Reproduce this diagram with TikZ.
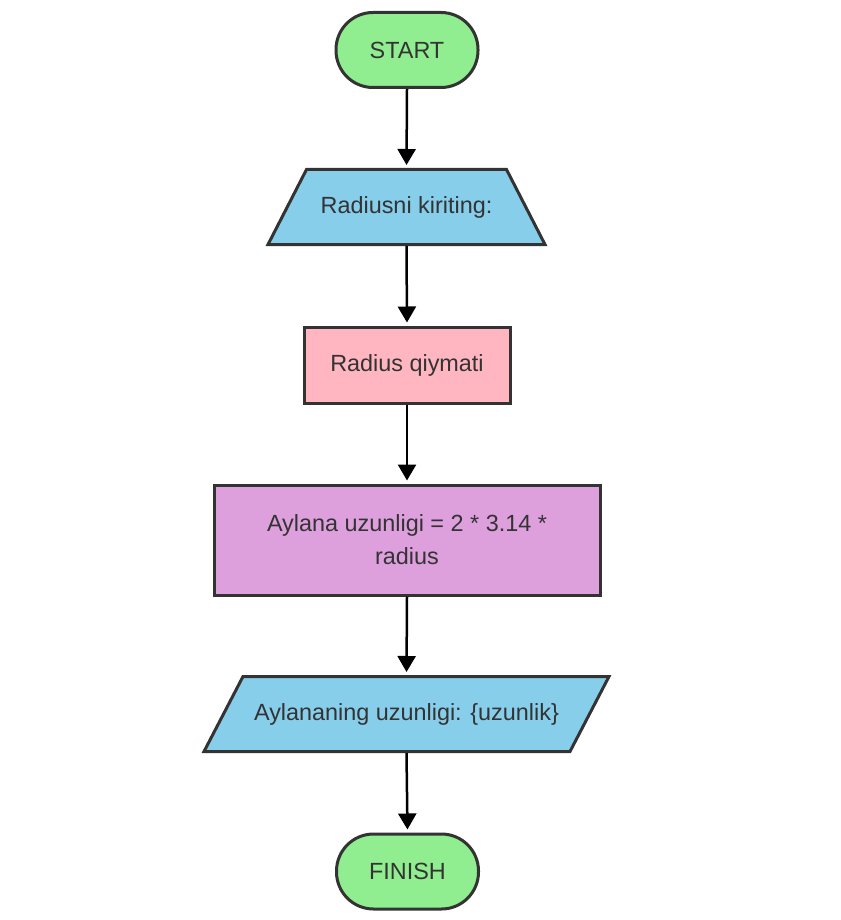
\documentclass[tikz,border=0pt]{standalone}
\usepackage{fontspec}
\setmainfont{Liberation Sans}
\usetikzlibrary{arrows.meta,calc,backgrounds}

\definecolor{ink}{HTML}{333333}
\definecolor{termfill}{HTML}{90EE90}
\definecolor{iofill}{HTML}{87CEEB}
\definecolor{valfill}{HTML}{FFB6C1}
\definecolor{calcfill}{HTML}{DDA0DD}

\tikzset{
  base/.style={font=\fontsize{23.4}{33}\selectfont, text=ink, inner sep=0pt,
    align=center, line width=3pt},
  term/.style={base, draw=ink, fill=termfill, rounded corners=37pt,
    minimum width=142pt, minimum height=75pt},
  procbox/.style={base, draw=ink, rectangle},
  iobox/.style={base, rectangle, outer sep=1.5pt},
  outline/.style={draw=ink, line width=3pt, line join=miter},
  flow/.style={draw=black, line width=2.5pt,
    -{Triangle[width=18pt,length=16pt]}, shorten >=3pt}
}

\begin{document}
\begin{tikzpicture}[x=1pt,y=-1pt]
  \useasboundingbox (0,0) rectangle (840,920);

  % terminals
  \node[term] (start) at (407,50) {START};
  \node[term] (finish) at (407.5,871.5) {FINISH};

  % input: trapezium
  \node[iobox, minimum width=274pt, minimum height=75pt] (inp) at (406.5,207) {Radiusni kiriting:};
  \begin{scope}[on background layer]
    \draw[outline, fill=iofill]
      ($(inp.north west)+(38.5,1.5)$) -- ($(inp.north east)+(-38.5,1.5)$)
      -- ($(inp.south east)+(0,-1.5)$) -- ($(inp.south west)+(0,-1.5)$) -- cycle;
  \end{scope}

  % value
  \node[procbox, fill=valfill, minimum width=206pt, minimum height=76pt] (val) at (407,365) {Radius qiymati};

  % computation
  \node[procbox, fill=calcfill, minimum width=386pt, minimum height=110pt] (comp) at (407,540)
    {Aylana uzunligi = 2 * 3.14 *\\radius};

  % output: parallelogram
  \node[iobox, minimum width=402pt, minimum height=75pt] (out) at (406.5,714) {Aylananing uzunligi: \{uzunlik\}};
  \begin{scope}[on background layer]
    \draw[outline, fill=iofill]
      ($(out.north west)+(39,1.5)$) -- ($(out.north east)+(0,1.5)$)
      -- ($(out.south east)+(-39,-1.5)$) -- ($(out.south west)+(0,-1.5)$) -- cycle;
  \end{scope}

  % connectors
  \draw[flow] (start.south) -- (inp.north);
  \draw[flow] (inp.south) -- (val.north);
  \draw[flow] (val.south) -- (comp.north);
  \draw[flow] (comp.south) -- (out.north);
  \draw[flow] (out.south) -- (finish.north);
\end{tikzpicture}
\end{document}
